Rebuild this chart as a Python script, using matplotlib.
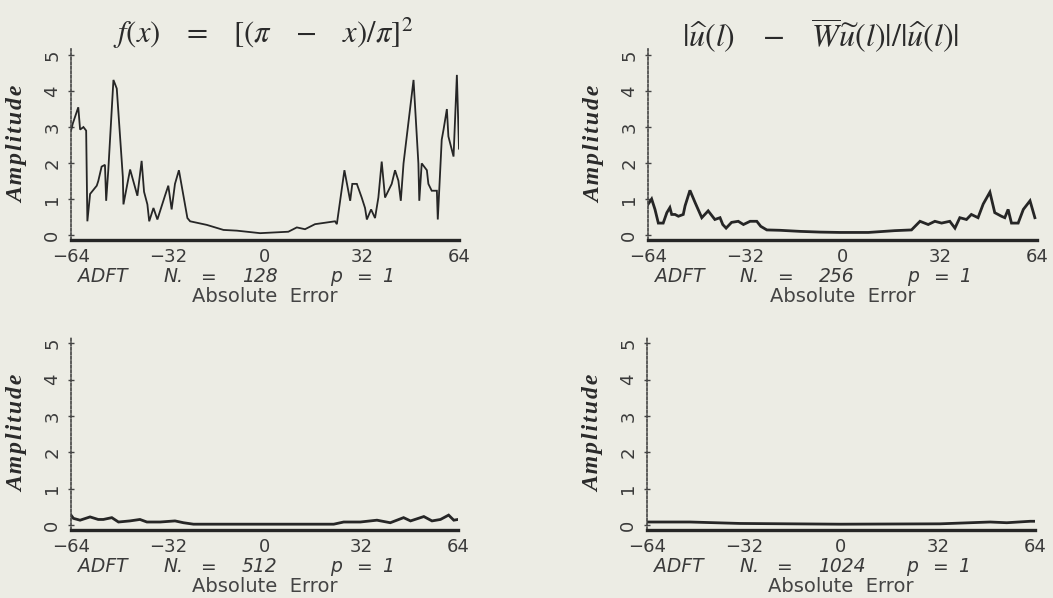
import numpy as np
import matplotlib.pyplot as plt

# Absolute error of the ADFT
n128_x = [-64, -63.4, -61.6, -61.0, -59.9, -59.0, -58.6, -57.7, -55.5, -55.0, -53.9, -52.8, -52.4,
          -51.7, -50.0, -48.9, -46.9, -46.7, -44.5, -42.1, -40.7, -39.9, -38.8, -38.2, -36.8, -35.5,
          -33.0, -31.9, -30.8, -29.7, -28.4, -25.6, -24.7, -19.2, -13.7, -9.3, -1.6, 7.7, 10.5, 13.2,
          16.5, 23.1, 23.7, 26.2, 28.1, 28.8, 30.3, 31.9, 33.0, 33.6, 35.0, 36.3, 37.4, 38.5, 39.6,
          41.8, 42.9, 44.0, 44.8, 45.7, 49.0, 50.6, 50.9, 51.7, 53.4, 53.9, 55.0, 56.7, 57.0, 58.3,
          58.9, 60.0, 60.5, 62.2, 63.3, 64.0]
n128_y = [2.9, 3.1, 3.55, 2.93, 3.0, 2.9, 0.38, 1.14, 1.37, 1.5, 1.9, 1.95, 0.95,
          1.8, 4.31, 4.07, 1.61, 0.85, 1.82, 1.09, 2.06, 1.2, 0.85, 0.38, 0.75, 0.43,
          1.09, 1.37, 0.71, 1.42, 1.8, 0.47, 0.38, 0.28, 0.14, 0.12, 0.05, 0.09, 0.21, 0.16,
          0.3, 0.38, 0.3, 1.8, 0.95, 1.42, 1.42, 1.04, 0.75, 0.43, 0.71, 0.47, 1.04, 2.04, 1.04,
          1.42, 1.8, 1.51, 0.95, 1.99, 4.31, 1.99, 0.95, 1.99, 1.8, 1.42, 1.23, 1.23, 0.43, 2.65,
          2.93, 3.5, 2.74, 2.18, 4.45, 2.4]

n256_x = [-64, -62.8, -61.7, -60.6, -59.0, -57.8, -56.8, -56.2, -55.1, -54.0, -52.4, -51.8, -50.2,
          -48.5, -46.3, -44.2, -42.0, -40.3, -39.4, -38.3, -36.5, -34.3, -32.6, -30.4, -28.2, -26.9,
          -24.9, -20.6, -14.0, -7.4, -0.8, 8.5, 17.2, 22.7, 25.5, 28.2, 30.4, 32.6, 35.3, 37.0,
          38.6, 40.8, 42.4, 44.6, 46.3, 48.5, 50.1, 52.3, 53.4, 54.5, 55.6, 57.8, 59.5, 61.7, 63.3]
n256_y = [0.85, 1.0, 0.71, 0.33, 0.33, 0.62, 0.76, 0.57, 0.57, 0.52, 0.57, 0.81, 1.24,
          0.9, 0.48, 0.67, 0.43, 0.48, 0.29, 0.19, 0.35, 0.38, 0.29, 0.38, 0.38, 0.24,
          0.14, 0.13, 0.1, 0.08, 0.07, 0.07, 0.12, 0.14, 0.38, 0.29, 0.38, 0.33, 0.38, 0.19,
          0.48, 0.43, 0.57, 0.48, 0.86, 1.19, 0.62, 0.52, 0.48, 0.71, 0.33, 0.33, 0.71, 0.95, 0.48]

n512_x = [-64, -63.2, -61.0, -57.7, -55.0, -53.3, -50.5, -48.3, -44.5, -41.2, -38.9, -34.5, -29.6,
          -26.8, -23.5, -1.4, 22.9, 26.2, 31.7, 37.2, 41.6, 46.0, 48.3, 52.7, 55.4, 58.2, 60.9,
          62.6, 64]
n512_y = [0.27, 0.18, 0.13, 0.22, 0.15, 0.15, 0.2, 0.08, 0.11, 0.15, 0.08, 0.08, 0.11,
          0.06, 0.02, 0.02, 0.02, 0.08, 0.08, 0.13, 0.06, 0.2, 0.11, 0.23, 0.11, 0.15, 0.27,
          0.13, 0.15]

n1024_x = [-64, -49.8, -33.3, -0.3, 32.7, 49.2, 54.7, 62.4, 64]
n1024_y = [0.08, 0.08, 0.04, 0.02, 0.03, 0.08, 0.06, 0.1, 0.1]

sizes = [128, 256, 512, 1024]
x_ticks = [-64, -32, 0, 32, 64]
x_labels = ['\u221264', '\u221232', '0', '32', '64']
y_ticks = [0, 1, 2, 3, 4, 5]

paper = '#ecece4'
ink = '#262626'
grey = '#3a3a3a'
W, H = 1053, 598

plt.rcParams['mathtext.fontset'] = 'stix'
fig = plt.figure(figsize=(W / 100, H / 100), dpi=100)
fig.patch.set_facecolor(paper)


def add_panel(left, right, top, bottom):
    # pixel box -> figure fraction
    return fig.add_axes([left / W, 1 - bottom / H, (right - left) / W, (bottom - top) / H])


def fig_text(px, py, s, **kw):
    fig.text(px / W, 1 - py / H, s, **kw)


def draw_panel(ax, box, x, y, n, lw):
    left, right, top, bottom = box
    ax.set_facecolor(paper)
    ax.plot(x, y, color=ink, lw=lw, solid_joinstyle='miter')
    ax.set_xlim(-64, 64)
    ax.set_ylim(-0.14, 5.17)
    for s in ['top', 'right']:
        ax.spines[s].set_visible(False)
    ax.spines['bottom'].set_linewidth(2.4)
    ax.spines['bottom'].set_color(ink)
    ax.spines['left'].set_linewidth(1.2)
    ax.spines['left'].set_color('#444444')
    ax.spines['left'].set_linestyle((0, (1.5, 1.2)))
    ax.set_xticks(x_ticks, x_labels)
    ax.set_yticks(y_ticks)
    ax.tick_params(axis='x', length=0, pad=6, labelsize=13, labelcolor=grey)
    ax.tick_params(axis='y', direction='inout', length=4, width=1, color='#444444',
                   pad=5, labelsize=13, labelcolor=grey)
    for t in ax.get_yticklabels():
        t.set_rotation(90)
        t.set_va('center')
    # slightly letter-spaced like the typewriter original
    fig_text(left - 53, (top + bottom) / 2, '\u200a'.join('Amplitude'), rotation=90,
             ha='center', va='center', fontsize=17, family='Liberation Serif',
             style='italic', weight='bold', color='#2a2a2a')

    # "ADFT  N. = n   p = 1" line, pieces spaced like the original typesetting
    ty = bottom + 37
    it = dict(va='center', fontsize=13.5, style='italic', color=grey)
    fig_text(left + 7, ty, 'ADFT', ha='left', **it)
    fig_text(left + 92, ty, 'N.', ha='left', **it)
    fig_text(left + 137, ty, '=', ha='center', **it)
    fig_text(left + 171, ty, str(n), ha='left', **it)
    fig_text(left + 265, ty, 'p', ha='center', **it)
    fig_text(left + 293, ty, '=', ha='center', **it)
    fig_text(left + 317, ty, '1', ha='center', **it)
    fig_text((left + right) / 2, bottom + 56, 'Absolute  Error', ha='center', va='center',
             fontsize=14, color='#444444')


boxes = [(71, 459, 49, 240), (648, 1037, 49, 240), (71, 458, 337, 530), (647, 1035, 337, 530)]
series = [(n128_x, n128_y, 1.3), (n256_x, n256_y, 2.0), (n512_x, n512_y, 2.0), (n1024_x, n1024_y, 2.0)]

for box, (sx, sy, lw), n in zip(boxes, series, sizes):
    ax = add_panel(*box)
    draw_panel(ax, box, sx, sy, n, lw)

fig_text(263, 33, r'$f(x)\ \ \ =\ \ \ [(\pi\ \ \ -\ \ \ x)/\pi]^2$',
         ha='center', va='center', fontsize=22, color='#2a2a2a')
fig_text(820, 36,
         r'$|\widehat{u}(l)\ \ \ -\ \ \ \overline{W}\widetilde{u}(l)|/|\widehat{u}(l)|$',
         ha='center', va='center', fontsize=23, color='#2a2a2a')

fig.savefig('out.png', dpi=100, facecolor=paper)
